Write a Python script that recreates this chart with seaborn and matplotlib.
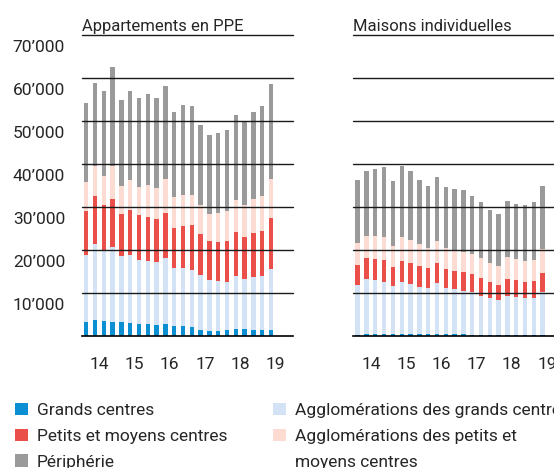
import numpy as np
import matplotlib
matplotlib.use("Agg")
import matplotlib.pyplot as plt
import matplotlib.transforms as mtransforms
from matplotlib.patches import Patch
import seaborn as sns

# quarters 2014 Q1 .. 2019 Q2
years = [2014] * 4 + [2015] * 4 + [2016] * 4 + [2017] * 4 + [2018] * 4 + [2019] * 2
quarter = [1, 2, 3, 4] * 5 + [1, 2]
year_labels = ["14", "15", "16", "17", "18", "19"]

series_names = ["Grands centres", "Agglomérations des grands centres",
                "Petits et moyens centres", "Agglomérations des petits et moyens centres",
                "Périphérie"]

# Appartements en PPE
ppe_grands = [3190, 3740, 3420, 3270, 3350, 2960, 2720, 2720, 2490, 2720, 2260,
              2260, 2020, 1480, 1250, 1250, 1400, 1560, 1560, 1480, 1480, 1480]
ppe_aggl_grands = [15640, 17580, 16420, 17350, 15250, 15870, 14950, 14790, 14790, 15490, 13540,
                   13540, 13310, 12680, 11750, 11510, 11210, 12290, 11750, 12220, 12370, 14080]
ppe_petits = [10120, 11130, 10510, 11290, 9730, 10350, 10350, 10190, 9960, 10270, 9410,
              9650, 10510, 9650, 9100, 9190, 9570, 10270, 9800, 10350, 10590, 11750]
ppe_aggl_petits = [6760, 6990, 6920, 7530, 6440, 7090, 6680, 7310, 7070, 8090, 7000,
                   7320, 6830, 6620, 6300, 6610, 6760, 7390, 7230, 7850, 8000, 9260]
ppe_peripherie = [18430, 19300, 19670, 23100, 20070, 20670, 20540, 21230, 21090, 21630, 19760,
                  21000, 20770, 18510, 18270, 18580, 18990, 19920, 19370, 20240, 21000, 21870]

# Maisons individuelles
mi_grands = [350, 450, 450, 400, 400, 450, 400, 450, 450, 400, 400,
             400, 380, 300, 300, 300, 320, 300, 300, 300, 300, 300]
mi_aggl_grands = [11480, 12780, 12550, 12210, 11200, 12000, 11660, 10990, 10760, 11900, 10800,
                  10430, 10050, 9830, 9030, 8570, 7940, 9030, 8730, 8430, 8430, 9830]
mi_petits = [4670, 4980, 4900, 5060, 4510, 5060, 4830, 4820, 4510, 4590, 4370,
             4270, 4440, 4270, 4140, 3660, 3570, 3900, 3970, 3870, 3970, 4430]
mi_aggl_petits = [5210, 5060, 5370, 5290, 4900, 5450, 5440, 5140, 4820, 5210, 4830,
                  4900, 4730, 4740, 4590, 4510, 4510, 5070, 4850, 4830, 4970, 5600]
mi_peripherie = [14560, 15170, 15640, 16250, 14930, 16480, 16110, 14940, 14230, 14870, 14140,
                 14070, 14330, 13300, 12980, 12220, 11990, 13140, 12890, 13070, 13370, 14780]

colors = ["#0a8fd3", "#d3e3f5", "#ea5049", "#fcdcd2", "#9a9a9a"]

sns.set_style("white")
plt.rcParams["font.family"] = ["Roboto", "DejaVu Sans"]
plt.rcParams["font.size"] = 12.5

xpos = np.array(years) + (np.array(quarter) - 0.5) / 4

fig = plt.figure(figsize=(5.54, 4.68), dpi=100)
ax1 = fig.add_axes([0.1475, 0.282, 0.3814, 0.6438])
ax2 = fig.add_axes([0.6377, 0.282, 0.3814, 0.6438])


def draw_panel(ax, parts, title):
    cum = np.cumsum(np.array(parts, dtype=float), axis=0)
    for i in reversed(range(len(parts))):
        sns.barplot(x=xpos, y=cum[i], native_scale=True, width=0.5, color=colors[i],
                    saturation=1, linewidth=0, edgecolor="none", errorbar=None, ax=ax)
    ax.set_xlim(2014, 2020)
    ax.set_ylim(0, 70000)
    for v in range(10000, 70001, 10000):
        ax.axhline(v, color="#1a1a1a", lw=1.0, zorder=3, clip_on=False)
    for s in ["left", "right", "top"]:
        ax.spines[s].set_visible(False)
    ax.spines["bottom"].set_color("black")
    ax.spines["bottom"].set_linewidth(1.2)
    ax.spines["bottom"].set_zorder(4)
    ax.set_xticks(range(2014, 2021))
    ax.set_xticklabels([])
    ax.set_xticks(np.arange(2014.5, 2020, 1), minor=True)
    ax.set_xticklabels(year_labels, minor=True)
    ax.tick_params(axis="x", which="major", length=5, width=1.1, color="black", direction="out")
    ax.tick_params(axis="x", which="minor", length=0, pad=15, labelsize=12.5)
    ax.set_xlabel("")
    ax.set_ylabel("")
    ax.set_title(title, loc="left", pad=2.5, fontsize=12)


draw_panel(ax1, [ppe_grands, ppe_aggl_grands, ppe_petits, ppe_aggl_petits, ppe_peripherie],
           "Appartements en PPE")
draw_panel(ax2, [mi_grands, mi_aggl_grands, mi_petits, mi_aggl_petits, mi_peripherie],
           "Maisons individuelles")

yt = list(range(10000, 70001, 10000))
ax1.set_yticks(yt)
ax1.set_yticklabels([f"{v // 1000}\u2019000" for v in yt])
ax1.tick_params(axis="y", length=0, pad=12, labelsize=12.5)
shift = mtransforms.ScaledTranslation(0, -11 / 100, fig.dpi_scale_trans)
for lab in ax1.get_yticklabels():
    lab.set_transform(lab.get_transform() + shift)
ax2.set_yticks(yt)
ax2.set_yticklabels([])
ax2.tick_params(axis="y", length=0)

# legend: two columns placed separately
h = [Patch(facecolor=c, edgecolor="none") for c in colors]
blank = Patch(facecolor="none", edgecolor="none")
common = dict(frameon=False, handlelength=0.72, handleheight=0.72, handletextpad=0.55,
              labelspacing=0.6, borderpad=0, borderaxespad=0, fontsize=12.5, loc="upper left")
fig.legend([h[0], h[2], h[4]], [series_names[0], series_names[2], series_names[4]],
           bbox_to_anchor=(15 / 554, 1 - 403 / 468), **common)
fig.legend([h[1], h[3], blank], [series_names[1], "Agglomérations des petits et", "moyens centres"],
           bbox_to_anchor=(273 / 554, 1 - 403 / 468), **common)

fig.savefig("out.png", dpi=100)
